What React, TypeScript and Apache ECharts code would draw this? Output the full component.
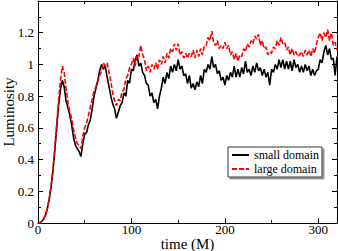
import React, { useEffect, useRef } from "react";
import * as echarts from "echarts";

const times: number[] = [];
for (let t = 0; t <= 320; t += 2) times.push(t);

const smallDomain = [
  0, 0.003, 0.01, 0.025, 0.05, 0.09, 0.15, 0.23, 0.33, 0.46,
  0.6, 0.74, 0.84, 0.9, 0.86, 0.77, 0.73, 0.68, 0.62, 0.54,
  0.49, 0.47, 0.45, 0.42, 0.5, 0.56, 0.57, 0.62, 0.65, 0.72,
  0.8, 0.85, 0.9, 0.96, 1.0, 0.97, 0.99, 0.92, 0.86, 0.8,
  0.75, 0.72, 0.66, 0.7, 0.74, 0.76, 0.82, 0.8, 0.9, 0.88,
  0.97, 0.96, 1.03, 1.06, 0.99, 1.01, 0.95, 0.93, 0.88, 0.87,
  0.8, 0.82, 0.76, 0.78, 0.72, 0.8, 0.85, 0.92, 0.88, 0.95,
  0.91, 0.99, 0.95, 1.0, 0.96, 1.03, 0.97, 0.99, 0.93, 0.94,
  0.88, 0.93, 0.85, 0.88, 0.84, 0.89, 0.86, 0.93, 0.88, 0.97,
  0.95, 1.0, 0.97, 1.05, 0.98, 1.0, 0.94, 0.96, 0.9, 0.92,
  0.87, 0.93, 0.9, 0.95, 0.92, 0.99, 0.92, 0.97, 0.92, 0.98,
  0.94, 1.02, 0.95, 0.97, 0.93, 0.99, 0.95, 1.01, 0.96, 0.98,
  0.93, 0.97, 0.92, 0.95, 0.87, 0.97, 0.95, 1.0, 0.97, 1.03,
  0.98, 1.03, 0.97, 1.02, 0.97, 1.02, 0.96, 1.03, 0.98, 1.0,
  0.95, 0.99, 0.95, 1.0, 0.96, 0.99, 0.93, 0.97, 0.93, 0.96,
  0.97, 1.03, 1.01, 1.08, 1.12, 1.06, 1.1, 1.03, 1.04, 0.93,
  1.05,
];

const largeDomain = [
  0, 0.003, 0.01, 0.025, 0.05, 0.09, 0.15, 0.23, 0.34, 0.47,
  0.62, 0.77, 0.9, 0.99, 0.95, 0.85, 0.76, 0.7, 0.66, 0.59,
  0.54, 0.5, 0.49, 0.47, 0.55, 0.6, 0.63, 0.68, 0.73, 0.78,
  0.83, 0.86, 0.89, 0.93, 0.96, 1.01, 0.99, 1.01, 0.95, 0.89,
  0.82, 0.77, 0.74, 0.78, 0.77, 0.83, 0.84, 0.91, 0.93, 0.98,
  1.0, 1.04, 0.99, 1.06, 1.05, 1.12, 1.06, 1.03, 0.96, 0.99,
  0.95, 1.0, 0.97, 1.01, 0.97, 1.03, 1.0, 1.05, 1.01, 1.07,
  1.04, 1.1, 1.08, 1.13, 1.09, 1.13, 1.06, 1.08, 1.04, 1.07,
  1.04, 1.07, 1.05, 1.09, 1.04, 1.09, 1.05, 1.1, 1.06, 1.12,
  1.12, 1.17, 1.15, 1.21, 1.14, 1.12, 1.15, 1.1, 1.12, 1.1,
  1.14, 1.1, 1.12, 1.06, 1.08, 1.03, 1.07, 1.02, 1.06, 1.05,
  1.1, 1.08, 1.13, 1.11, 1.15, 1.13, 1.18, 1.16, 1.19, 1.12,
  1.15, 1.1, 1.11, 1.06, 1.08, 1.07, 1.11, 1.1, 1.15, 1.12,
  1.17, 1.13, 1.14, 1.09, 1.11, 1.06, 1.1, 1.06, 1.08, 1.05,
  1.06, 1.08, 1.05, 1.09, 1.06, 1.09, 1.05, 1.1, 1.07, 1.13,
  1.17, 1.2, 1.15, 1.2, 1.17, 1.22, 1.15, 1.2, 1.12, 1.14,
  1.09,
];

const xTicks = [0, 100, 200, 300];
const yTickLabels = ["0", "0.2", "0.4", "0.6", "0.8", "1", "1.2"];

const FONT = "'Liberation Serif', 'Times New Roman', serif";

export default function App() {
  const ref = useRef<HTMLDivElement>(null);
  useEffect(() => {
    if (!ref.current) return;
    const chart = echarts.init(ref.current, undefined, { renderer: "svg" });
    const axisLine = { show: true, onZero: false, lineStyle: { color: "#000", width: 1 } };
    const axisTick = { show: true, inside: true, length: 5, lineStyle: { color: "#000" } };
    const minorTick = { show: true, splitNumber: 2, length: 3, lineStyle: { color: "#000" } };
    chart.setOption({
      animation: false,
      backgroundColor: "#fff",
      grid: { left: 38, right: 1, top: 1, bottom: 28, containLabel: false, outerBoundsMode: "none" },
      legend: {
        orient: "vertical",
        left: 228,
        top: 147,
        padding: [2, 3, 2, 3],
        itemWidth: 17,
        itemHeight: 8,
        itemGap: 2,
        backgroundColor: "#fff",
        borderColor: "#333",
        borderWidth: 1,
        shadowColor: "#999",
        shadowOffsetX: 2,
        shadowOffsetY: 2,
        shadowBlur: 0,
        itemStyle: { opacity: 0 },
        textStyle: { fontFamily: FONT, fontSize: 12, color: "#000", lineHeight: 12 },
        data: ["small domain", "large domain"],
      },
      xAxis: [
        {
          type: "value",
          position: "bottom",
          min: 0,
          max: 320,
          interval: 100,
          name: "time (M)",
          nameLocation: "middle",
          nameGap: 13,
          nameMoveOverlap: false,
          nameTextStyle: { fontFamily: FONT, fontSize: 15, color: "#000" },
          axisLine,
          axisTick,
          minorTick,
          splitLine: { show: false },
          axisLabel: {
            fontFamily: FONT,
            fontSize: 13,
            color: "#000",
            margin: 0,
            showMaxLabel: false,
            formatter: (v: number) => (xTicks.includes(v) ? String(v) : ""),
          },
        },
        {
          type: "value",
          position: "top",
          min: 0,
          max: 320,
          interval: 100,
          axisLine,
          axisTick,
          minorTick,
          splitLine: { show: false },
          axisLabel: { show: false },
        },
      ],
      yAxis: [
        {
          type: "value",
          position: "left",
          min: 0,
          max: 1.4,
          interval: 0.2,
          name: "Luminosity",
          nameLocation: "middle",
          nameGap: 22,
          nameMoveOverlap: false,
          nameTextStyle: { fontFamily: FONT, fontSize: 15, color: "#000" },
          axisLine,
          axisTick,
          minorTick,
          splitLine: { show: false },
          axisLabel: {
            fontFamily: FONT,
            fontSize: 13,
            color: "#000",
            margin: 4,
            showMaxLabel: false,
            formatter: (v: number) => {
              const i = Math.round(v / 0.2);
              return i >= 0 && i < yTickLabels.length ? yTickLabels[i] : "";
            },
          },
        },
        {
          type: "value",
          position: "right",
          min: 0,
          max: 1.4,
          interval: 0.2,
          axisLine,
          axisTick,
          minorTick,
          splitLine: { show: false },
          axisLabel: { show: false },
        },
      ],
      series: [
        {
          name: "small domain",
          type: "line",
          xAxisIndex: 0,
          yAxisIndex: 0,
          showSymbol: false,
          symbol: "none",
          data: times.map((t, i) => [t, smallDomain[i]]),
          lineStyle: { color: "#000", width: 1.6 },
          itemStyle: { color: "#000" },
        },
        {
          name: "large domain",
          type: "line",
          xAxisIndex: 0,
          yAxisIndex: 0,
          showSymbol: false,
          symbol: "none",
          data: times.map((t, i) => [t, largeDomain[i]]),
          lineStyle: { color: "#ff0000", width: 1.6, type: [5, 2] },
          itemStyle: { color: "#ff0000" },
        },
      ],
    });
    return () => chart.dispose();
  }, []);
  return <div ref={ref} style={{ width: 338, height: 251, position: "absolute", left: 0, top: 0 }} />;
}
